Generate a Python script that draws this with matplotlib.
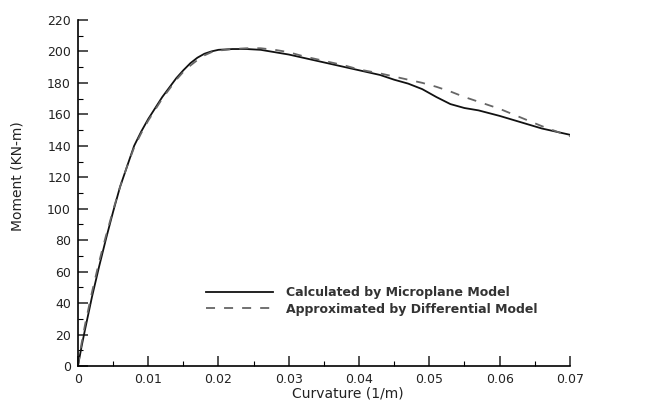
import matplotlib.pyplot as plt
from matplotlib.ticker import MultipleLocator

# curvature (1/m) and moment (KN-m)
micro_curv = [0.0, 0.0005, 0.001, 0.002, 0.003, 0.004, 0.005, 0.006, 0.007, 0.008,
              0.009, 0.010, 0.011, 0.012, 0.013, 0.014, 0.015, 0.016, 0.017, 0.018,
              0.019, 0.020, 0.022, 0.024, 0.026, 0.028, 0.030, 0.032, 0.035, 0.038,
              0.040, 0.043, 0.045, 0.047, 0.049, 0.051, 0.053, 0.055, 0.057, 0.060,
              0.063, 0.066, 0.070]
micro_moment = [0, 12, 23, 44, 63, 81, 98, 114, 127, 140,
                149, 157, 164, 171, 177, 183, 188, 192.5, 196, 198.5,
                200, 201, 201.5, 201.5, 201, 199.5, 198, 196, 193, 190,
                188, 185, 182, 179.5, 176, 171, 166.5, 164, 162.5, 159,
                155, 151, 147]

diff_curv = [0.0, 0.0005, 0.001, 0.002, 0.003, 0.004, 0.005, 0.006, 0.007, 0.008,
             0.009, 0.010, 0.011, 0.012, 0.013, 0.014, 0.015, 0.016, 0.017, 0.018,
             0.019, 0.020, 0.022, 0.024, 0.026, 0.028, 0.030, 0.032, 0.035, 0.038,
             0.040, 0.043, 0.045, 0.047, 0.049, 0.051, 0.053, 0.055, 0.057, 0.060,
             0.063, 0.066, 0.070]
diff_moment = [0, 14, 26, 47, 66, 83, 99, 114, 127, 139,
               148, 156, 163, 170, 176, 182, 187, 191, 194.5, 197.5,
               199.5, 200.5, 201.5, 202, 202, 201, 199.5, 197, 194, 191,
               188.5, 186, 184, 182, 180, 177.5, 174.5, 171, 168, 163.5,
               158, 152.5, 146]

x_ticks = [0, 0.01, 0.02, 0.03, 0.04, 0.05, 0.06, 0.07]
x_tick_labels = ["0", "0.01", "0.02", "0.03", "0.04", "0.05", "0.06", "0.07"]

fig = plt.figure(figsize=(6.55, 4.01), dpi=100)
ax = fig.add_axes([0.119, 0.0873, 0.751, 0.863])

ax.plot(micro_curv, micro_moment, color="#111111", linewidth=1.3,
        label="Calculated by Microplane Model")
ax.plot(diff_curv, diff_moment, color="#666666", linewidth=1.3, dashes=(5, 5),
        label="Approximated by Differential Model")

ax.set_xlim(0, 0.07)
ax.set_ylim(0, 220)
ax.set_xticks(x_ticks)
ax.set_xticklabels(x_tick_labels)
ax.xaxis.set_minor_locator(MultipleLocator(0.005))
ax.yaxis.set_major_locator(MultipleLocator(20))
ax.yaxis.set_minor_locator(MultipleLocator(10))

for side in ["top", "right"]:
    ax.spines[side].set_visible(False)
ax.spines["left"].set_linewidth(1.2)
ax.spines["bottom"].set_linewidth(1.2)

ax.tick_params(which="major", direction="in", length=7, width=1.1,
               labelsize=9, colors="#222222", pad=5)
ax.tick_params(which="minor", direction="in", length=3.5, width=0.8)

ax.set_xlabel("Curvature (1/m)", fontsize=10, color="#222222")
ax.set_ylabel("Moment (KN-m)", fontsize=10, color="#222222")
ax.xaxis.set_label_coords(0.549, -0.058)
ax.yaxis.set_label_coords(-0.108, 0.55)

leg = ax.legend(loc="upper left", bbox_to_anchor=(0.297, 0.315),
                bbox_transform=fig.transFigure, frameon=False,
                prop={"size": 9, "weight": "bold"},
                handlelength=5.4, handletextpad=1.0, labelspacing=0.3)
for txt in leg.get_texts():
    txt.set_color("#333333")

plt.savefig("out.png", dpi=100)
